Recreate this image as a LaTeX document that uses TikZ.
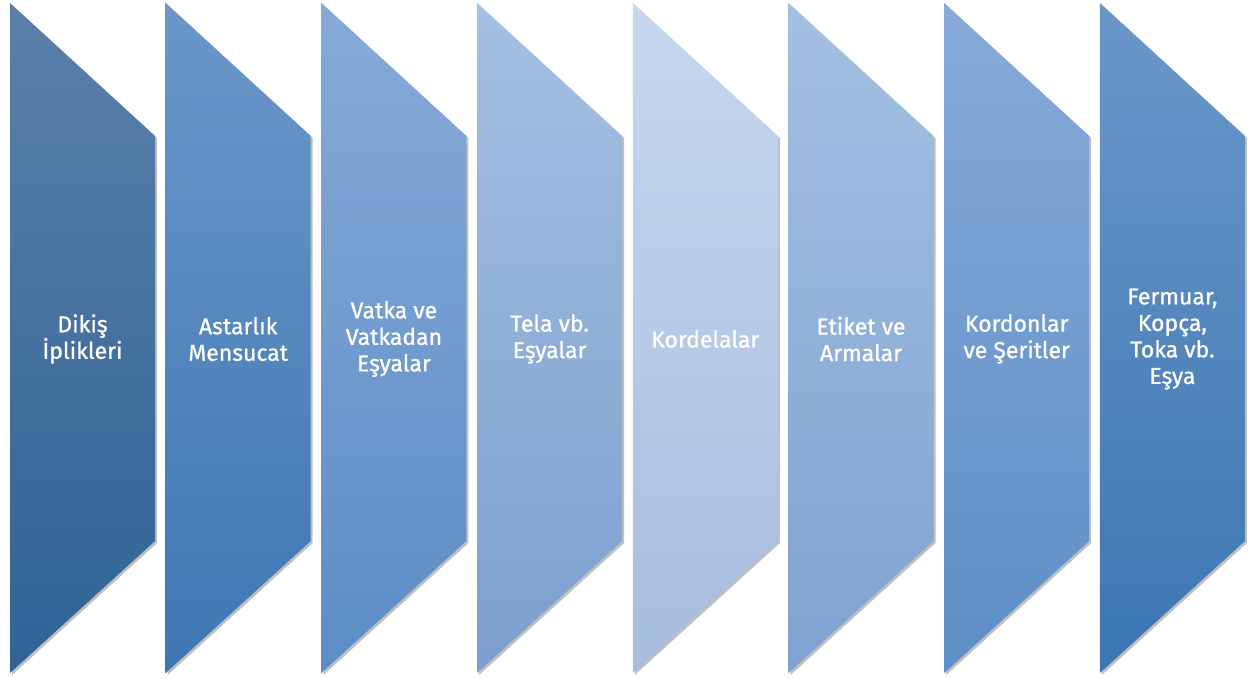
\documentclass[tikz,border=0pt]{standalone}
\usepackage{fontspec}
\setmainfont{Fira Sans}
\usetikzlibrary{shadows}
\definecolor{cAt}{HTML}{5A80A9}\definecolor{cAb}{HTML}{2F6396}
\definecolor{cBt}{HTML}{6B97C9}\definecolor{cBb}{HTML}{3D77B3}
\definecolor{cCt}{HTML}{87AAD8}\definecolor{cCb}{HTML}{5C8DC6}
\definecolor{cDt}{HTML}{A4C0E3}\definecolor{cDb}{HTML}{7C9FCD}
\definecolor{cEt}{HTML}{C6D7EE}\definecolor{cEb}{HTML}{A7BDDF}
\definecolor{cFt}{HTML}{A4C0E3}\definecolor{cFb}{HTML}{7FA2D0}
\definecolor{cGt}{HTML}{87AAD8}\definecolor{cGb}{HTML}{5D8EC6}
\definecolor{cHt}{HTML}{6B97C9}\definecolor{cHb}{HTML}{3B76B2}
\tikzset{
  band/.style={drop shadow={shadow xshift=2pt,shadow yshift=-2pt,opacity=0.25,fill=black}},
  label/.style={text=white,align=center,font=\fontsize{23}{26.5}\selectfont\addfontfeature{FakeBold=0.8},inner sep=0pt}
}
\begin{document}
\begin{tikzpicture}[x=1pt,y=-1pt]
\useasboundingbox (0,0) rectangle (1249,679);
\foreach \i/\c/\t in {0/A/{Dikiş\\İplikleri},1/B/{Astarlık\\Mensucat},2/C/{Vatka ve\\Vatkadan\\Eşyalar},3/D/{Tela vb.\\Eşyalar},4/E/{Kordelalar},5/F/{Etiket ve\\Armalar},6/G/{Kordonlar\\ve Şeritler},7/H/{Fermuar,\\Kopça,\\Toka vb.\\Eşya}}{
  \pgfmathsetmacro{\xl}{10+155.7*\i}
  \pgfmathsetmacro{\xr}{\xl+145}
  \path[band,top color=c\c t,bottom color=c\c b]
    (\xl,3) -- (\xr,136) -- (\xr,541) -- (\xl,673) -- cycle;
  \node[label] (t\i) at ({\xl+72.5},339) {\t};
}
\end{tikzpicture}
\end{document}
